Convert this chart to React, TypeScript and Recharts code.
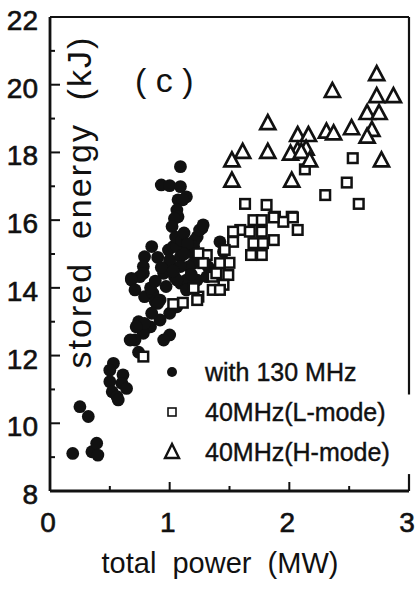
import React from "react";
import {
  ScatterChart,
  Scatter,
  XAxis,
  YAxis,
  ReferenceLine,
  Customized,
} from "recharts";

// total power (MW), stored energy (kJ)
const with130MHz: [number, number][] = [
  [1.09, 17.58],
  [0.93, 17.04], [1.0, 17.02], [1.09, 16.99],
  [1.14, 16.69], [1.07, 16.6], [1.11, 16.6],
  [1.06, 16.3], [1.07, 16.1], [1.04, 16.05], [1.02, 15.81],
  [1.27, 15.76], [1.23, 15.51], [1.21, 15.41], [1.25, 15.71], [1.28, 15.86],
  [0.85, 15.22], [0.79, 14.92], [0.78, 14.63], [0.78, 14.43], [0.75, 14.33],
  [0.68, 14.28], [0.68, 14.23], [0.71, 13.94], [0.79, 13.74], [0.86, 13.84],
  [0.88, 13.59], [0.92, 13.64],
  [0.99, 15.12], [1.03, 15.22], [1.06, 15.22], [1.0, 14.73], [1.0, 14.82],
  [1.04, 14.33], [0.97, 14.04], [1.09, 14.92], [1.2, 15.02], [1.2, 15.22],
  [1.25, 14.82], [1.2, 14.73], [1.16, 14.63], [1.09, 14.63], [1.09, 14.14],
  [1.14, 14.23], [1.06, 14.23], [1.14, 13.94], [1.23, 14.23], [1.32, 14.63],
  [1.31, 14.33], [1.42, 15.36], [1.45, 15.07], [0.95, 14.43], [0.84, 14.0],
  [1.05, 15.5], [1.1, 15.4], [1.12, 15.62], [1.15, 15.3], [1.12, 15.0],
  [0.9, 14.9], [0.93, 14.6], [1.18, 14.4], [1.03, 14.5], [0.88, 14.2],
  [1.06, 13.44], [1.0, 13.25], [0.92, 13.05], [0.84, 12.85], [0.74, 13.0],
  [0.78, 12.66], [0.71, 12.46], [0.67, 12.46], [1.0, 12.61], [0.95, 12.46],
  [0.9, 13.54], [0.85, 13.25], [0.79, 12.95], [0.72, 12.85], [0.74, 12.1],
  [0.53, 11.77], [0.5, 11.57], [0.61, 11.43], [0.5, 11.23], [0.6, 11.18],
  [0.64, 11.03], [0.52, 10.93], [0.56, 10.79], [0.57, 10.69],
  [0.25, 10.49], [0.32, 10.2],
  [0.19, 9.11], [0.35, 9.16], [0.39, 9.41], [0.4, 9.06],
];

const lMode40MHz: [number, number][] = [
  [2.53, 17.83], [2.48, 17.11], [2.3, 16.74], [2.58, 16.48], [2.13, 17.5],
  [1.63, 16.48], [1.81, 16.45], [2.02, 16.1], [1.88, 16.1], [1.95, 15.95],
  [2.07, 15.71], [1.7, 16.0], [1.77, 16.0], [1.87, 16.08], [2.03, 16.08],
  [1.59, 15.71], [1.67, 15.66], [1.77, 15.66], [1.53, 15.66], [1.87, 15.41],
  [1.7, 15.32], [1.78, 15.32], [1.53, 15.36], [1.68, 14.97], [1.77, 14.97],
  [1.46, 15.12], [1.31, 14.97], [1.42, 14.73], [1.5, 14.74], [1.49, 14.38],
  [1.36, 14.33], [1.45, 14.09], [1.36, 13.94], [1.24, 13.74], [1.11, 13.56],
  [1.03, 13.52], [1.2, 13.99], [1.28, 14.73], [1.24, 15.02], [1.39, 14.43],
  [1.42, 13.94], [1.23, 13.64], [0.78, 11.97],
];

const hMode40MHz: [number, number][] = [
  [2.73, 20.3], [2.36, 19.8], [2.73, 19.65], [2.87, 19.65], [2.65, 19.15],
  [2.75, 19.15], [1.82, 18.85], [2.52, 18.7], [2.69, 18.65], [2.65, 18.45],
  [2.31, 18.6], [2.37, 18.55], [2.07, 18.5], [2.16, 18.5], [2.07, 18.05],
  [2.14, 18.1], [2.01, 17.95], [2.1, 18.0], [1.61, 18.0], [1.82, 18.0],
  [2.17, 17.75], [1.52, 17.75], [2.77, 17.75], [2.02, 17.15], [1.52, 17.15],
];

const SERIES_NAMES = ["with 130 MHz", "40MHz(L-mode)", "40MHz(H-mode)"];
const X_TICKS = [0, 0.5, 1, 1.5, 2, 2.5, 3];
const Y_TICKS = [8, 9, 10, 11, 12, 13, 14, 15, 16, 17, 18, 19, 20, 21, 22];

const FONT = "'Liberation Sans', Arial, Helvetica, sans-serif";
const INK = "#111";

const toPoints = (pairs: [number, number][]) =>
  pairs.map(([p, w]) => ({ p, w }));

const Dot = (props: any) => (
  <circle cx={props.cx} cy={props.cy} r={6.4} fill={INK} />
);

const Square = (props: any) => (
  <rect
    x={props.cx - 4.8}
    y={props.cy - 4.8}
    width={9.6}
    height={9.6}
    fill="#fff"
    stroke={INK}
    strokeWidth={2.5}
  />
);

const Triangle = (props: any) => {
  const { cx, cy } = props;
  return (
    <polygon
      points={`${cx},${cy - 8.5} ${cx - 7.5},${cy + 5.5} ${cx + 7.5},${cy + 5.5}`}
      fill="#fff"
      stroke={INK}
      strokeWidth={2.7}
    />
  );
};

const XTick = (props: any) => {
  const { x, y, payload } = props;
  const major = Number.isInteger(payload.value);
  return (
    <g>
      <line x1={x} y1={y} x2={x} y2={y - (major ? 9 : 5)} stroke={INK} strokeWidth={2} />
      {major && (
        <text
          x={x - 2}
          y={y + 41}
          textAnchor="middle"
          fontSize={28}
          fontFamily={FONT}
          fill={INK}
          stroke={INK}
          strokeWidth={0.6}
        >
          {payload.value}
        </text>
      )}
    </g>
  );
};

const YTick = (props: any) => {
  const { x, y, payload } = props;
  const major = payload.value % 2 === 0;
  return (
    <g>
      <line x1={x} y1={y} x2={x + (major ? 10 : 5)} y2={y} stroke={INK} strokeWidth={2} />
      {major && (
        <text
          x={38}
          y={y + 13}
          textAnchor="end"
          fontSize={28}
          fontFamily={FONT}
          fill={INK}
          stroke={INK}
          strokeWidth={0.6}
        >
          {payload.value}
        </text>
      )}
    </g>
  );
};

const legendMarker = (i: number, cx: number, cy: number) => {
  if (i === 0) return <circle cx={cx} cy={cy} r={5} fill={INK} />;
  if (i === 1)
    return (
      <rect x={cx - 4} y={cy - 4} width={8} height={8} fill="#fff" stroke={INK} strokeWidth={1.6} />
    );
  return (
    <polygon
      points={`${cx},${cy - 8} ${cx - 7},${cy + 6} ${cx + 7},${cy + 6}`}
      fill="#fff"
      stroke={INK}
      strokeWidth={2.4}
    />
  );
};

// legend rows and panel texts
const Overlay = () => (
  <g fontFamily={FONT} fill={INK}>
    {SERIES_NAMES.map((name, i) => (
      <g key={name}>
        {legendMarker(i, 172, 372 + i * 40)}
        <text x={205} y={381 + i * 40} fontSize={25} stroke={INK} strokeWidth={0.4}>
          {name}
        </text>
      </g>
    ))}
    <text x={135} y={92} fontSize={34}>
      {"(\u00a0c\u00a0)"}
    </text>
    <text
      x={91}
      y={202}
      fontSize={34}
      letterSpacing={2}
      textAnchor="middle"
      transform="rotate(-90 91 202)"
    >
      {"stored\u00a0 energy\u00a0 (kJ)"}
    </text>
    <text x={220} y={573} fontSize={29} textAnchor="middle">
      {"total\u00a0 power\u00a0 (MW)"}
    </text>
  </g>
);

export default function App() {
  return (
    <div style={{ position: "absolute", left: 0, top: 0, background: "#fff" }}>
      <ScatterChart
        width={419}
        height={599}
        margin={{ top: 17, right: 10, bottom: 0, left: 0 }}
      >
        <XAxis
          type="number"
          dataKey="p"
          domain={[0, 3]}
          ticks={X_TICKS}
          interval={0}
          height={108}
          tickSize={0}
          tickMargin={0}
          tickLine={false}
          tick={<XTick />}
          axisLine={{ stroke: INK, strokeWidth: 2.8 }}
          allowDataOverflow
        />
        <YAxis
          type="number"
          dataKey="w"
          domain={[8, 22]}
          ticks={Y_TICKS}
          interval={0}
          width={50}
          tickSize={0}
          tickMargin={0}
          tickLine={false}
          tick={<YTick />}
          axisLine={{ stroke: INK, strokeWidth: 2.8 }}
          allowDataOverflow
        />
        <ReferenceLine y={22} stroke={INK} strokeWidth={2.2} />
        <ReferenceLine
          segment={[{ x: 3, y: 22 }, { x: 3, y: 10.85 }]}
          stroke={INK}
          strokeWidth={2.2}
        />
        <ReferenceLine
          segment={[{ x: 3, y: 8.5 }, { x: 3, y: 8 }]}
          stroke={INK}
          strokeWidth={2.2}
        />
        <Scatter
          name={SERIES_NAMES[0]}
          data={toPoints(with130MHz)}
          shape={<Dot />}
          isAnimationActive={false}
        />
        <Scatter
          name={SERIES_NAMES[1]}
          data={toPoints(lMode40MHz)}
          shape={<Square />}
          isAnimationActive={false}
        />
        <Scatter
          name={SERIES_NAMES[2]}
          data={toPoints(hMode40MHz)}
          shape={<Triangle />}
          isAnimationActive={false}
        />
        <Customized component={<Overlay />} />
      </ScatterChart>
    </div>
  );
}
